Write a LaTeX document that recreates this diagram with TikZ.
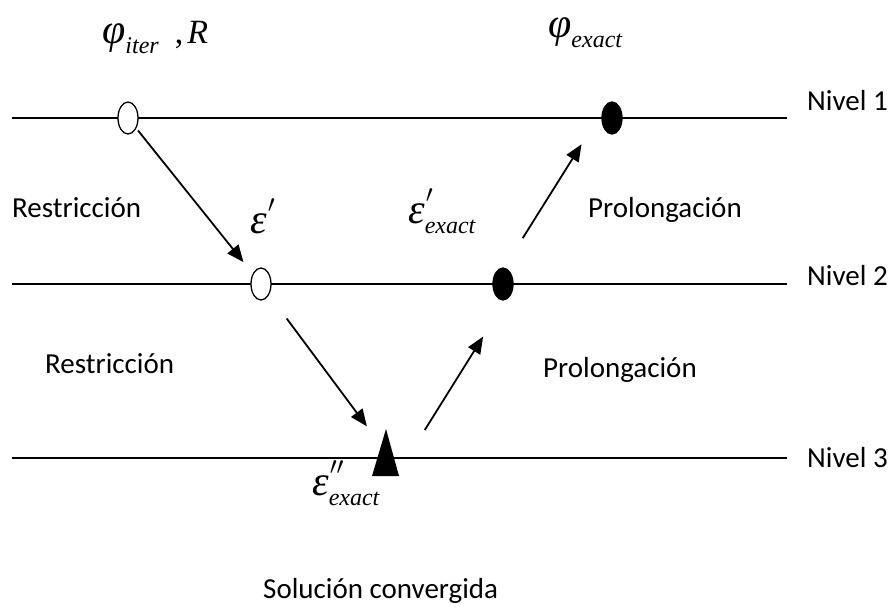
\documentclass[tikz,border=0pt]{standalone}
\usepackage{fontspec}
\setmainfont{Carlito}
\newfontfamily\tnr{Liberation Serif}
\usetikzlibrary{arrows.meta,shapes.geometric}
% italic symbol with prime and subscript
\newcommand{\varsym}[3]{{\tnr\itshape\fontsize{42}{42}\selectfont #1\rlap{\kern1pt\raisebox{0.5em}{\fontsize{32}{32}\selectfont$#2$}}\raisebox{-0.24em}{\fontsize{24}{24}\selectfont #3}}}

\begin{document}
\begin{tikzpicture}[
  x=1pt, y=-1pt,
  lvl/.style={line width=1.3pt},
  pt/.style={draw, ellipse, line width=1.3pt, inner sep=0pt, minimum width=20pt, minimum height=32pt},
  open/.style={pt, fill=white},
  full/.style={pt, fill=black},
  txt/.style={anchor=base west, inner sep=0pt, font=\fontsize{29}{34}\selectfont},
  sym/.style={anchor=base west, inner sep=0pt},
  arr/.style={line width=1.8pt, -{Triangle[length=17pt,width=14pt]}}]
  \useasboundingbox (0,0) rectangle (889,606);
  % level names
  \node[txt] (niv1) at (807,110) {Nivel 1};
  \node[txt] (niv2) at (807,285) {Nivel 2};
  \node[txt] (niv3) at (807,467) {Nivel 3};
  \coordinate (l1) at (12,118);
  \coordinate (l2) at (12,284);
  \coordinate (l3) at (12,458);
  \draw[lvl] (l1) -- (787,118);
  \draw[lvl] (l2) -- (787,284);
  \draw[lvl] (l3) -- (787,458);
  % points on the levels
  \node[open] (o1) at (128,118) {};
  \node[open] (o2) at (261,284) {};
  \node[full] (f1) at (612,118) {};
  \node[full] (f2) at (503,284) {};
  \coordinate (tri) at (386,452);
  \fill (tri) ++(-14,24) -- ++(14,-47) -- ++(13,47) -- cycle;
  % arrows
  \draw[arr, shorten <=16pt, shorten >=28pt] (o1.center) -- (o2.center);
  \draw[arr, shorten <=43pt, shorten >=32pt] (o2.center) -- (tri);
  \draw[arr, shorten <=26pt, shorten >=62pt] ([xshift=25pt]tri) -- ([xshift=13pt]f2.center);
  \draw[arr, shorten <=54pt, shorten >=31pt] ([xshift=-9pt]f2.center) -- ([xshift=-14pt]f1.center);
  % labels
  \node[sym] (phiR) at (102,43) {\varsym{φ}{}{iter}\hspace{16pt}{\tnr\fontsize{34}{34}\selectfont ,\hspace{4pt}\itshape R}};
  \node[sym] (phiex) at (548,37) {\varsym{φ}{}{exact}};
  \node[sym] (eps1) at (250,233) {\varsym{ε}{\prime}{}};
  \node[sym] (eps2) at (408,223) {\varsym{ε}{\prime}{exact}};
  \node[sym] (eps3) at (312,495) {\varsym{ε}{\prime\prime}{exact}};
  \node[txt] (res1) at (12,217) {Restricción};
  \node[txt] (pro1) at (588,217) {Prolongación};
  \node[txt] (res2) at (45,373) {Restricción};
  \node[txt] (pro2) at (543,377) {Prolongación};
  \node[txt] (sol) at (263,598) {Solución convergida};
\end{tikzpicture}
\end{document}
